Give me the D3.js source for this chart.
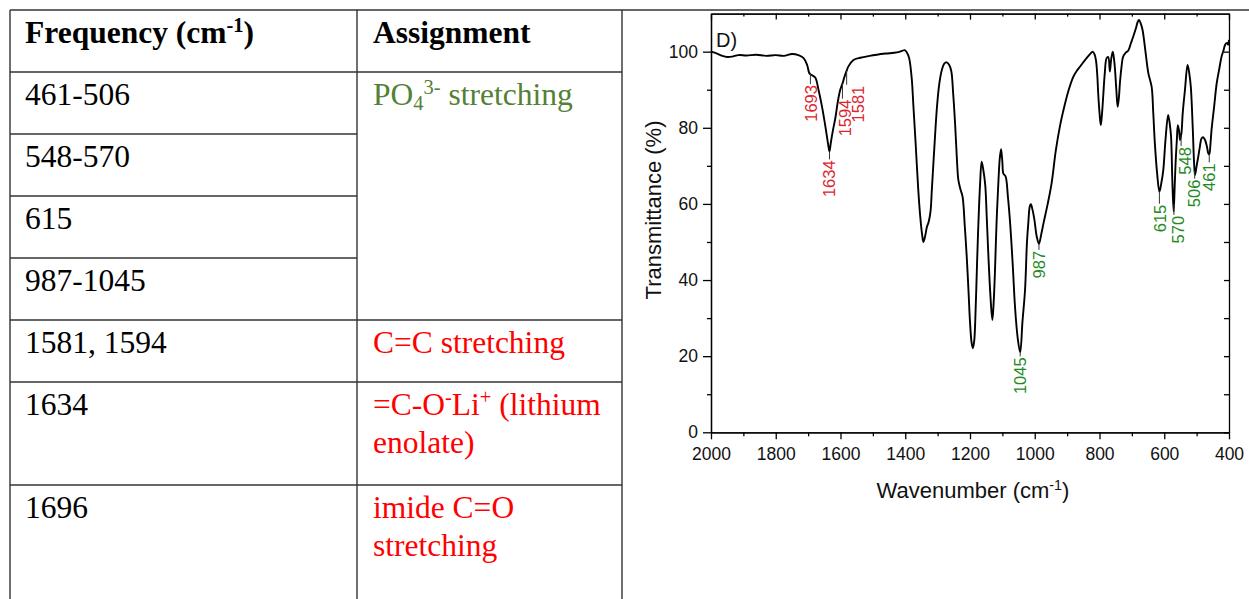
<!DOCTYPE html>
<html>
<head>
<meta charset="utf-8">
<script src="https://cdn.jsdelivr.net/npm/d3@7"></script>
<style>
body { margin: 0; background: #fff; }
</style>
</head>
<body>
<div id="figure"></div>
<script>
// FTIR spectrum, panel D
var wavenumbers = [
	2000, 1985, 1965, 1950, 1935, 1915, 1890, 1860, 1830, 1800, 1775, 1750, 1730, 1714, 1703, 1696,
	1688, 1678, 1668, 1657, 1646, 1638, 1634, 1630, 1623, 1616, 1608, 1601, 1594, 1588, 1581, 1575,
	1560, 1539, 1510, 1488, 1460, 1426, 1410, 1402, 1395, 1388, 1380, 1375, 1368, 1360, 1354, 1348,
	1344, 1338, 1333, 1328, 1322, 1318, 1310, 1302, 1295, 1287, 1280, 1272, 1265, 1258, 1252, 1246,
	1240, 1236, 1230, 1223, 1216, 1210, 1204, 1200, 1195, 1191, 1187, 1184, 1178, 1174, 1169, 1164,
	1159, 1153, 1148, 1143, 1137, 1131, 1127, 1123, 1118, 1112, 1108, 1104, 1100, 1097, 1090, 1083,
	1076, 1068, 1061, 1053, 1045, 1038, 1030, 1024, 1020, 1015, 1012, 1007, 1001, 994, 987, 980,
	973, 960, 948, 935, 922, 906, 895, 881, 870, 860, 840, 828, 821, 815, 811, 807,
	804, 800, 796, 792, 788, 784, 778, 773, 768, 764, 759, 755, 752, 748, 744, 740,
	737, 732, 727, 718, 711, 703, 696, 688, 682, 678, 673, 667, 658, 649, 639, 634,
	629, 622, 615, 609, 603, 596, 588, 583, 579, 575, 571, 568, 565, 561, 558, 554,
	551, 547, 543, 536, 528, 523, 518, 512, 508, 505, 500, 495, 490, 485, 480, 474,
	468, 464, 461, 457, 454, 446, 438, 430, 423, 417, 412, 406, 403, 400
];
var transmittance = [
	100.0, 99.6, 98.9, 98.6, 98.7, 99.1, 99.0, 99.2, 98.9, 99.1, 98.9, 99.4, 99.1, 98.3, 96.5, 94.3,
	93.8, 93.2, 90.0, 85.5, 80.0, 75.5, 73.8, 76.0, 79.5, 82.5, 87.0, 89.9, 91.6, 93.3, 95.0, 96.2,
	97.8, 98.4, 98.9, 99.2, 99.5, 99.8, 100.2, 100.4, 99.8, 98.3, 93.0, 86.0, 76.0, 64.0, 57.0, 52.0,
	50.0, 51.8, 54.0, 55.2, 58.0, 63.5, 75.0, 85.5, 91.5, 95.2, 96.8, 97.2, 96.6, 95.0, 89.0, 81.0,
	71.0, 66.3, 64.0, 61.9, 54.0, 46.0, 36.0, 29.0, 23.5, 22.1, 24.0, 28.7, 45.0, 55.0, 65.0, 71.1,
	69.0, 65.0, 56.0, 46.0, 36.0, 29.5, 34.0, 42.0, 55.0, 66.3, 72.0, 74.4, 71.0, 68.0, 67.2, 62.0,
	54.9, 44.0, 33.0, 25.0, 21.0, 29.0, 37.4, 50.0, 54.9, 59.5, 59.9, 58.5, 55.8, 51.5, 49.5, 52.0,
	54.9, 60.0, 65.4, 74.0, 80.5, 86.5, 90.0, 93.4, 95.0, 96.1, 98.3, 99.5, 100.0, 99.2, 97.8, 94.0,
	89.0, 84.0, 80.7, 84.0, 89.0, 94.0, 98.3, 98.6, 94.8, 98.0, 100.0, 98.0, 95.2, 90.0, 85.5, 88.0,
	91.7, 96.0, 98.7, 99.8, 100.3, 102.2, 103.9, 106.0, 107.8, 108.3, 107.5, 105.7, 100.0, 94.3, 90.8, 84.0,
	75.9, 68.0, 63.2, 65.5, 68.9, 77.0, 83.4, 81.0, 77.7, 66.0, 58.0, 64.0, 70.7, 77.0, 80.7, 79.0,
	76.8, 78.5, 83.8, 90.0, 96.5, 94.5, 90.8, 80.0, 71.0, 67.6, 70.0, 72.4, 75.0, 77.2, 77.5, 76.8,
	75.0, 73.3, 73.0, 76.0, 79.4, 85.5, 91.7, 95.5, 98.7, 100.3, 101.8, 102.3, 101.8, 103.1
];

var xTicks = [2000, 1800, 1600, 1400, 1200, 1000, 800, 600, 400];
var yTicks = [0, 20, 40, 60, 80, 100];

var peakWavenumbers = [1693, 1634, 1594, 1581, 1045, 987, 615, 570, 548, 506, 461];
var peakGroups = ['organic', 'organic', 'organic', 'organic', 'phosphate', 'phosphate',
	'phosphate', 'phosphate', 'phosphate', 'phosphate', 'phosphate'];

// band assignment table
var tableHeaders = ['Frequency (cm<sup>-1</sup>)', 'Assignment'];
var frequencyLabels = ['461-506', '548-570', '615', '987-1045', '1581, 1594', '1634', '1696'];
var assignmentLabels = ['PO<sub>4</sub><sup>3-</sup> stretching', 'C=C stretching',
	'=C-O<sup>-</sup>Li<sup>+</sup> (lithium|enolate)', 'imide C=O|stretching'];
var assignmentFirstRow = [0, 4, 5, 6];
var assignmentGroups = ['phosphate', 'organic', 'organic', 'organic'];

var width = 1249;
var height = 599;
var peakColors = { organic: '#dc2530', phosphate: '#1f8a24' };
var tableColors = { organic: '#ff0000', phosphate: '#538135' };

var svg = d3.select('#figure').append('svg')
	.attr('width', width)
	.attr('height', height)
	.style('display', 'block');

// small rich text helper: <sup>..</sup>, <sub>..</sub>
var richText = function(parent, markup, fontSize) {
	var parts = markup.split(/(<sup>.*?<\/sup>|<sub>.*?<\/sub>)/).filter(function(s) { return s.length; });
	var shift = 0;
	parts.forEach(function(p) {
		var target = 0, size = fontSize, txt = p;
		if (p.indexOf('<sup>') === 0) {
			target = -0.36 * fontSize; size = fontSize * 0.65; txt = p.slice(5, -6);
		} else if (p.indexOf('<sub>') === 0) {
			target = 0.16 * fontSize; size = fontSize * 0.65; txt = p.slice(5, -6);
		}
		parent.append('tspan')
			.attr('dy', target - shift)
			.attr('font-size', size)
			.text(txt);
		shift = target;
	});
};

// ---------- table ----------
var table = svg.append('g').classed('table', true);
var tableFont = 31.5;
var colX = [10, 357, 622, 1249];
var rowLines = [1, 1, 1, 1, 1, 1, 2, 3];
var rowTops = [10];
rowLines.forEach(function(n, i) {
	rowTops.push(rowTops[i] + 62 + (n - 1) * 41);
});
var lineColor = '#333';

table.append('line')
	.attr('x1', colX[0]).attr('x2', width).attr('y1', rowTops[0]).attr('y2', rowTops[0]);
[0, 1, 2].forEach(function(c) {
	table.append('line')
		.attr('x1', colX[c]).attr('x2', colX[c]).attr('y1', rowTops[0]).attr('y2', height + 5);
});
rowTops.slice(1, -1).forEach(function(top, i) {
	// rows 1-3 of the phosphate block are merged in the assignment column
	var merged = i >= 1 && i <= 3;
	table.append('line')
		.attr('x1', colX[0]).attr('x2', merged ? colX[1] : colX[2])
		.attr('y1', top).attr('y2', top);
});
table.selectAll('line')
	.attr('stroke', lineColor)
	.attr('stroke-width', 1.4);

var cellText = function(markup, x, top, color, bold) {
	markup.split('|').forEach(function(line, i) {
		var t = table.append('text')
			.attr('x', x)
			.attr('y', top + 33 + i * 38)
			.attr('fill', color)
			.attr('font-family', '"Liberation Serif", "Times New Roman", serif')
			.attr('font-weight', bold ? 'bold' : 'normal')
			.attr('font-size', tableFont);
		richText(t, line, tableFont);
	});
};

cellText(tableHeaders[0], 25, rowTops[0], '#000', true);
cellText(tableHeaders[1], 373, rowTops[0], '#000', true);
frequencyLabels.forEach(function(f, i) {
	cellText(f, 25, rowTops[i + 1], '#000', false);
});
assignmentLabels.forEach(function(a, i) {
	cellText(a, 373, rowTops[assignmentFirstRow[i] + 1], tableColors[assignmentGroups[i]], false);
});

// ---------- spectrum ----------
var plot = { left: 711, right: 1229, top: 13.6, bottom: 432.3 };
var x = d3.scaleLinear().domain([2000, 400]).range([plot.left, plot.right]);
var y = d3.scaleLinear().domain([0, 110]).range([plot.bottom, plot.top]);
var chart = svg.append('g').classed('spectrum', true);
var sansFont = '"Liberation Sans", Arial, sans-serif';

var minorX = d3.range(1900, 400, -200);
var minorY = [10, 30, 50, 70, 90];

var styleAxis = function(g) {
	g.selectAll('path, line').attr('stroke', '#000').attr('stroke-width', 1.3);
	g.selectAll('text').attr('font-family', sansFont).attr('font-size', 17.5).attr('fill', '#111');
	g.attr('font-family', null).attr('font-size', null);
};

chart.append('g')
	.attr('transform', 'translate(0,' + plot.bottom + ')')
	.call(d3.axisBottom(x).tickValues(xTicks).tickSizeInner(7).tickSizeOuter(0).tickPadding(8)
		.tickFormat(d3.format('d')))
	.call(styleAxis);
chart.append('g')
	.attr('transform', 'translate(0,' + plot.bottom + ')')
	.call(d3.axisBottom(x).tickValues(minorX).tickSizeInner(4).tickSizeOuter(0).tickFormat(''))
	.call(styleAxis);
chart.append('g')
	.attr('transform', 'translate(' + plot.left + ',0)')
	.call(d3.axisLeft(y).tickValues(yTicks).tickSizeInner(8).tickSizeOuter(0).tickPadding(5))
	.call(styleAxis);
chart.append('g')
	.attr('transform', 'translate(' + plot.left + ',0)')
	.call(d3.axisLeft(y).tickValues(minorY).tickSizeInner(4).tickSizeOuter(0).tickFormat(''))
	.call(styleAxis);
chart.append('g')
	.attr('transform', 'translate(0,' + plot.top + ')')
	.call(d3.axisTop(x).tickValues(xTicks).tickSizeInner(-6).tickSizeOuter(0).tickFormat(''))
	.call(styleAxis);
chart.append('g')
	.attr('transform', 'translate(0,' + plot.top + ')')
	.call(d3.axisTop(x).tickValues(minorX).tickSizeInner(-3).tickSizeOuter(0).tickFormat(''))
	.call(styleAxis);
chart.append('g')
	.attr('transform', 'translate(' + plot.right + ',0)')
	.call(d3.axisRight(y).tickValues(yTicks.concat(minorY)).tickSizeInner(-5).tickSizeOuter(0).tickFormat(''))
	.call(styleAxis);

var spectrum = wavenumbers.map(function(w, i) { return [w, transmittance[i]]; });
var line = d3.line()
	.x(function(d) { return x(d[0]); })
	.y(function(d) { return y(d[1]); })
	.curve(d3.curveCatmullRom.alpha(0.5));

chart.append('path')
	.datum(spectrum)
	.attr('fill', 'none')
	.attr('stroke', '#000')
	.attr('stroke-width', 1.9)
	.attr('stroke-linejoin', 'round')
	.attr('d', line);

// transmittance at a given wavenumber, linear between the read points
var valueAt = function(w) {
	for (var i = 1; i < wavenumbers.length; i += 1) {
		if (wavenumbers[i] <= w) {
			var t = (wavenumbers[i - 1] - w) / (wavenumbers[i - 1] - wavenumbers[i]);
			return transmittance[i - 1] + t * (transmittance[i] - transmittance[i - 1]);
		}
	}
	return transmittance[transmittance.length - 1];
};

// peak labels with short leader lines
var labelShift = [1, 0, 3, 12, 0, 0, 1, 4, 4, 0, 0];
var labelGap = [11, 9, 16, 15, 5, 7, 13, 12, 12, 9, 9];

peakWavenumbers.forEach(function(w, i) {
	var px = x(w);
	var py = y(valueAt(w));
	var top = py + labelGap[i];
	chart.append('line')
		.attr('x1', px).attr('x2', px)
		.attr('y1', py).attr('y2', top - 1)
		.attr('stroke', '#333')
		.attr('stroke-width', 1);
	chart.append('text')
		.attr('transform', 'translate(' + (px + labelShift[i]) + ',' + top + ') rotate(-90)')
		.attr('text-anchor', 'end')
		.attr('dy', '0.35em')
		.attr('fill', peakColors[peakGroups[i]])
		.attr('font-family', sansFont)
		.attr('font-size', 16.5)
		.text(w);
});

chart.append('text')
	.attr('x', 716)
	.attr('y', 46.5)
	.attr('font-family', sansFont)
	.attr('font-size', 20)
	.attr('fill', '#111')
	.text('D)');

var xTitle = chart.append('text')
	.attr('x', 973)
	.attr('y', 498)
	.attr('text-anchor', 'middle')
	.attr('font-family', sansFont)
	.attr('font-size', 22)
	.attr('fill', '#111');
richText(xTitle, 'Wavenumber (cm<sup>-1</sup>)', 22);

chart.append('text')
	.attr('transform', 'translate(661,210) rotate(-90)')
	.attr('text-anchor', 'middle')
	.attr('font-family', sansFont)
	.attr('font-size', 22)
	.attr('fill', '#111')
	.text('Transmittance (%)');
</script>
</body>
</html>
